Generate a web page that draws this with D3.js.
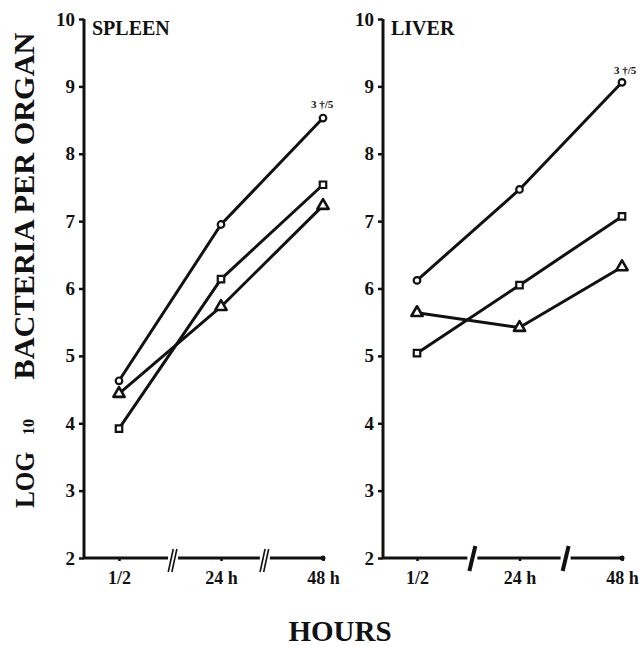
<!DOCTYPE html>
<html>
<head>
<meta charset="utf-8">
<script src="https://cdn.jsdelivr.net/npm/d3@7"></script>
<style>
  html, body { margin: 0; padding: 0; background: #fff; }
  svg { display: block; }
  text { font-family: "Liberation Serif", "Times New Roman", serif; fill: #111; }
</style>
</head>
<body>
<svg id="chart" width="642" height="647"></svg>
<script>
// ---- data ----
const hours = ["1/2", "24 h", "48 h"];
const yTicks = [2, 3, 4, 5, 6, 7, 8, 9, 10];
const spleenCircle   = [4.63, 6.95, 8.53];
const spleenSquare   = [3.92, 6.14, 7.54];
const spleenTriangle = [4.44, 5.73, 7.23];
const liverCircle    = [6.12, 7.47, 9.06];
const liverSquare    = [5.04, 6.05, 7.07];
const liverTriangle  = [5.64, 5.42, 6.32];
const deathNote = "3 \u2020/5";

const svg = d3.select("#chart");
const ink = "#111";

const y = d3.scaleLinear().domain([2, 10]).range([558, 19]);

const panels = [
  { title: "SPLEEN", axisX: 84, range: [119, 323], breaks: [0.53, 1.43], doubleBreak: true,
    series: [
      { shape: "circle", values: spleenCircle, note: true },
      { shape: "square", values: spleenSquare },
      { shape: "triangle", values: spleenTriangle }
    ], noteDx: -12, noteDy: -10 },
  { title: "LIVER", axisX: 383, range: [417, 622], breaks: [0.54, 1.45], doubleBreak: false,
    series: [
      { shape: "circle", values: liverCircle, note: true },
      { shape: "square", values: liverSquare },
      { shape: "triangle", values: liverTriangle }
    ], noteDx: -8, noteDy: -8 }
];

panels.forEach(p => {
  const x = d3.scalePoint().domain(hours).range(p.range);
  const g = svg.append("g");

  // y axis
  const yAxis = d3.axisLeft(y).tickValues(yTicks).tickSize(5).tickPadding(4).tickFormat(d3.format("d"));
  const ya = g.append("g").attr("transform", `translate(${p.axisX},0)`).call(yAxis);
  ya.select(".domain").attr("stroke", ink).attr("stroke-width", 3).attr("d", `M0,${y(2)}V${y(10)}`);
  ya.selectAll(".tick line").attr("stroke", ink).attr("stroke-width", 2.5);
  ya.selectAll(".tick text").style("font-size", "19px").style("font-weight", "bold")
    .attr("fill", ink).style("font-family", '"Liberation Serif", serif');

  // x axis
  const xAxis = d3.axisBottom(x).tickSize(3).tickPadding(10);
  const xa = g.append("g").attr("transform", `translate(0,${y(2)})`).call(xAxis);
  xa.select(".domain").attr("stroke", ink).attr("stroke-width", 3)
    .attr("d", `M${p.axisX},0H${x(hours[2])}`);
  xa.selectAll(".tick line").attr("stroke", ink).attr("stroke-width", 2.5);
  xa.selectAll(".tick text").style("font-size", "18px").style("font-weight", "bold")
    .attr("fill", ink).style("font-family", '"Liberation Serif", serif');
  // end dot
  g.append("circle").attr("cx", x(hours[2])).attr("cy", y(2)).attr("r", 2.5).attr("fill", ink);

  // axis breaks
  const xs = hours.map(h => x(h));
  p.breaks.forEach(b => {
    const i = Math.floor(b);
    const bx = xs[i] + (xs[i + 1] - xs[i]) * (b - i);
    g.append("rect").attr("x", bx - 5).attr("y", y(2) - 3).attr("width", 10).attr("height", 6).attr("fill", "#fff");
    if (p.doubleBreak) {
      [-1.8, 1.8].forEach(o => {
        g.append("line").attr("x1", bx + o - 3).attr("y1", y(2) + 14).attr("x2", bx + o + 2).attr("y2", y(2) - 9)
          .attr("stroke", ink).attr("stroke-width", 1.6);
      });
    } else {
      g.append("line").attr("x1", bx - 3).attr("y1", y(2) + 13).attr("x2", bx + 3).attr("y2", y(2) - 12)
        .attr("stroke", ink).attr("stroke-width", 4);
    }
  });

  // title
  g.append("text").attr("x", p.axisX + 8).attr("y", 35).text(p.title)
    .style("font-size", "20px").style("font-weight", "bold");

  // lines
  const line = d3.line().x((d, i) => x(hours[i])).y(d => y(d));
  p.series.forEach(s => {
    g.append("path").attr("d", line(s.values)).attr("fill", "none")
      .attr("stroke", ink).attr("stroke-width", 3).attr("stroke-linejoin", "round");
  });
  // markers
  p.series.forEach(s => {
    s.values.forEach((v, i) => {
      const cx = x(hours[i]), cy = y(v);
      if (s.shape === "circle") {
        g.append("circle").attr("cx", cx).attr("cy", cy).attr("r", 3.3)
          .attr("fill", "#fff").attr("stroke", ink).attr("stroke-width", 2.2);
      } else if (s.shape === "square") {
        g.append("path").attr("transform", `translate(${cx},${cy})`)
          .attr("d", d3.symbol(d3.symbolSquare, 42)())
          .attr("fill", "#fff").attr("stroke", ink).attr("stroke-width", 2.2);
      } else {
        g.append("path").attr("transform", `translate(${cx},${cy})`)
          .attr("d", d3.symbol(d3.symbolTriangle, 55)())
          .attr("fill", "#fff").attr("stroke", ink).attr("stroke-width", 2.6).attr("stroke-linejoin", "round");
      }
    });
    if (s.note) {
      const last = s.values.length - 1;
      g.append("text").attr("x", x(hours[last]) + p.noteDx).attr("y", y(s.values[last]) + p.noteDy)
        .text(deathNote).style("font-size", "11px").style("font-weight", "bold");
    }
  });
});

// y-axis label
svg.append("text").attr("transform", `translate(34,480) rotate(-90)`)
  .attr("text-anchor", "middle")
  .attr("textLength", 56).attr("lengthAdjust", "spacingAndGlyphs")
  .style("font-size", "28px").style("font-weight", "bold")
  .text("LOG");
svg.append("text").attr("transform", `translate(34,427) rotate(-90)`)
  .attr("text-anchor", "middle")
  .style("font-size", "16px").style("font-weight", "bold")
  .text("10");
svg.append("text").attr("transform", `translate(34,206) rotate(-90)`)
  .attr("text-anchor", "middle")
  .attr("textLength", 347).attr("lengthAdjust", "spacingAndGlyphs")
  .style("font-size", "29px").style("font-weight", "bold")
  .text("BACTERIA PER ORGAN");

// x-axis label
svg.append("text").attr("x", 340).attr("y", 641).attr("text-anchor", "middle")
  .style("font-size", "29px").style("font-weight", "bold")
  .text("HOURS");
</script>
</body>
</html>
